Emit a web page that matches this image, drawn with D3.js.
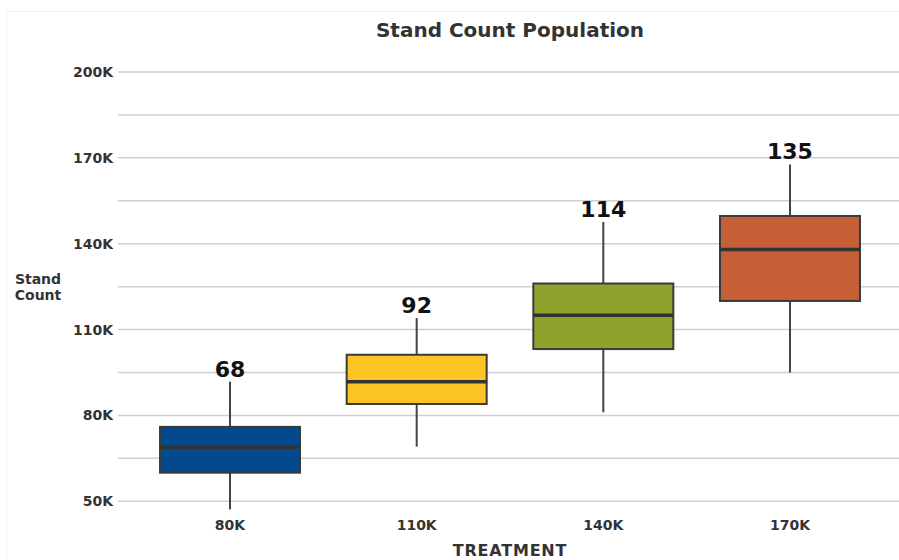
<!DOCTYPE html>
<html>
<head>
<meta charset="utf-8">
<script src="https://cdn.jsdelivr.net/npm/d3@7"></script>
<style>
  html, body { margin: 0; padding: 0; background: #fff; }
  text { font-family: "DejaVu Sans", "Open Sans", sans-serif; }
</style>
</head>
<body>
<svg id="chart" width="899" height="560"></svg>
<script>
// ---- data ----
const categories = ["80K", "110K", "140K", "170K"];
const whiskerLow = [47200, 69100, 81100, 95000];
const q1 = [60000, 84000, 103200, 120000];
const median = [68900, 91800, 115000, 138000];
const q3 = [76000, 101200, 126100, 149700];
const whiskerHigh = [91800, 114000, 147600, 167700];
const labels = ["68", "92", "114", "135"];
const colors = ["#034A8C", "#FDC425", "#8FA32C", "#C65E36"];
const yTicks = [50000, 80000, 110000, 140000, 170000, 200000];
const yMinorTicks = [65000, 95000, 125000, 155000, 185000];

const svg = d3.select("#chart");
const W = 899, H = 560;
const FONT = "'DejaVu Sans', 'Open Sans', sans-serif";

// faint card border
svg.append("rect").attr("x", 6.5).attr("y", 11.5).attr("width", W - 6).attr("height", H - 10)
  .attr("fill", "none").attr("stroke", "#f2f2f2").attr("stroke-width", 1);

const y = d3.scaleLinear().domain([50000, 200000]).range([501.3, 72]);
const x = d3.scaleBand().domain(categories).range([136.7, 883.3]).paddingInner(0.25).paddingOuter(0.125);

const gridX1 = 118, gridX2 = 899;

// gridlines
svg.append("g").selectAll("line").data(yTicks.concat(yMinorTicks)).join("line")
  .attr("x1", gridX1).attr("x2", gridX2)
  .attr("y1", d => y(d)).attr("y2", d => y(d))
  .attr("stroke", "#cfcfcf").attr("stroke-width", 1.5);

// y axis labels
const fmtK = d => (d / 1000) + "K";
const yAxis = d3.axisLeft(y).tickValues(yTicks).tickFormat(fmtK).tickSize(0).tickPadding(0);
const gy = svg.append("g").attr("transform", `translate(${113},0)`).call(yAxis);
gy.select(".domain").remove();
gy.selectAll("text").attr("font-size", 14).attr("font-weight", 700).attr("fill", "#333")
  .attr("font-family", FONT);

// x axis labels
const xAxis = d3.axisBottom(x).tickSize(0).tickPadding(0);
const gx = svg.append("g").attr("transform", `translate(0,${520})`).call(xAxis);
gx.select(".domain").remove();
gx.selectAll("text").attr("font-size", 14).attr("font-weight", 700).attr("fill", "#333")
  .attr("font-family", FONT);

// boxes
const data = categories.map((c, i) => ({
  c, lo: whiskerLow[i], q1: q1[i], med: median[i], q3: q3[i], hi: whiskerHigh[i],
  label: labels[i], color: colors[i]
}));

const g = svg.append("g").selectAll("g").data(data).join("g");
const cx = d => x(d.c) + x.bandwidth() / 2;

g.append("line").attr("x1", cx).attr("x2", cx)
  .attr("y1", d => y(d.hi)).attr("y2", d => y(d.q3))
  .attr("stroke", "#444").attr("stroke-width", 2);
g.append("line").attr("x1", cx).attr("x2", cx)
  .attr("y1", d => y(d.q1)).attr("y2", d => y(d.lo))
  .attr("stroke", "#444").attr("stroke-width", 2);
g.append("rect")
  .attr("x", d => x(d.c)).attr("width", x.bandwidth())
  .attr("y", d => y(d.q3)).attr("height", d => y(d.q1) - y(d.q3))
  .attr("fill", d => d.color).attr("stroke", "#3a3a3a").attr("stroke-width", 2);
g.append("line")
  .attr("x1", d => x(d.c)).attr("x2", d => x(d.c) + x.bandwidth())
  .attr("y1", d => y(d.med)).attr("y2", d => y(d.med))
  .attr("stroke", "#333").attr("stroke-width", 3.5);
g.append("text").attr("x", cx).attr("y", d => y(d.hi) - 5)
  .attr("text-anchor", "middle").attr("font-size", 22).attr("font-weight", 700)
  .attr("fill", "#111").text(d => d.label);

// title
svg.append("text").attr("x", 510).attr("y", 37).attr("text-anchor", "middle")
  .attr("font-size", 20).attr("font-weight", 700).attr("fill", "#333")
  .text("Stand Count Population");

// x axis title
svg.append("text").attr("x", 510).attr("y", 556).attr("text-anchor", "middle")
  .attr("font-size", 16).attr("font-weight", 700).attr("fill", "#333")
  .attr("letter-spacing", 0.8).text("TREATMENT");

// y axis title
const yt = svg.append("text").attr("x", 38).attr("y", 284).attr("text-anchor", "middle")
  .attr("font-size", 14).attr("font-weight", 700).attr("fill", "#333");
yt.append("tspan").attr("x", 38).attr("dy", 0).text("Stand");
yt.append("tspan").attr("x", 38).attr("dy", 16).text("Count");
</script>
</body>
</html>
